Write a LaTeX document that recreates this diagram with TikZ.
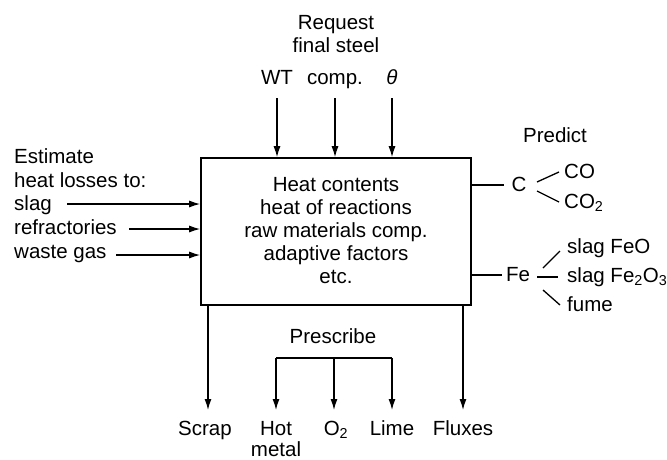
\documentclass[tikz,border=0pt]{standalone}
\usepackage{fontspec}
\setmainfont{Liberation Sans}
\usetikzlibrary{arrows.meta}
\begin{document}
\begin{tikzpicture}[x=1pt,y=-1pt,
  every node/.style={font=\fontsize{20.5}{23}\selectfont, inner sep=0pt, text height=14pt, text depth=4pt},
  ln/.style={line width=1.3pt},
  arr/.style={ln,-{Latex[length=11pt,width=7pt]}},
  lbl/.style={anchor=west}]
\useasboundingbox (0,0) rectangle (667,459);
% box
\node[draw, line width=1.6pt, minimum width=270pt, minimum height=147pt, text height=, text depth=] (box) at (336,231.5) {};
\node[align=center, text height=, text depth=] (inner) at (336,231) {Heat contents\\heat of reactions\\raw materials comp.\\adaptive factors\\etc.};
% top
\node (req) at (336,24) {Request};
\node (fs) at (336,47) {final steel};
\node (wt) at (277,79) {WT};
\node (comp) at (335,79) {comp.};
\node (th) at (392,79) {\textit{θ}};
\coordinate (wts) at (277,98);
\coordinate (comps) at (335,98);
\coordinate (ths) at (392,98);
\draw[arr] (wts) -- (wts |- box.north);
\draw[arr] (comps) -- (comps |- box.north);
\draw[arr] (ths) -- (ths |- box.north);
% left
\node[lbl] (est) at (14,158) {Estimate};
\node[lbl] (hl) at (14,182) {heat losses to:};
\node[lbl] (slag) at (14,205) {slag};
\node[lbl] (refr) at (14,229) {refractories};
\node[lbl] (wg) at (14,253) {waste gas};
\draw[arr] (67,204) -- (box.west |- 0,204);
\draw[arr] (129,229) -- (box.west |- 0,229);
\draw[arr] (116,255) -- (box.west |- 0,255);
% right
\node (pred) at (555,137) {Predict};
\node (C) at (519,186) {C};
\draw[ln] (box.east |- 0,185) -- (504,185);
\node[lbl] (CO) at (564,173) {CO};
\node[lbl] (CO2) at (564,203) {CO\textsubscript{2}};
\draw[ln] (537,182) -- (559,172);
\draw[ln] (537,191) -- (559,202);
\node (Fe) at (518,276) {Fe};
\draw[ln] (box.east |- 0,275) -- (502,275);
\node[lbl] (sfeo) at (567,248) {slag FeO};
\node[lbl] (sfe2) at (567,277) {slag Fe\textsubscript{2}O\textsubscript{3}};
\node[lbl] (fume) at (567,306) {fume};
\draw[ln] (543,268) -- (560,251);
\draw[ln] (537,277) -- (558,277);
\draw[ln] (543,290) -- (560,305);
% bottom
\node (scrap) at (205,430) {Scrap};
\node (hot) at (276,430) {Hot};
\node (metal) at (276,451) {metal};
\node (o2) at (336,430) {O\textsubscript{2}};
\node (lime) at (392,430) {Lime};
\node (flux) at (463,430) {Fluxes};
\node (pres) at (333,338) {Prescribe};
\draw[arr] (box.south -| 208,0) -- (208,410);
\draw[arr] (box.south -| 463,0) -- (463,410);
\coordinate (brl) at (276,358);
\coordinate (brm) at (334,358);
\coordinate (brr) at (392,358);
\draw[ln] (brl) -- (brr);
\draw[arr] (brl) -- (276,410);
\draw[arr] (brm) -- (334,410);
\draw[arr] (brr) -- (392,410);
\end{tikzpicture}
\end{document}
